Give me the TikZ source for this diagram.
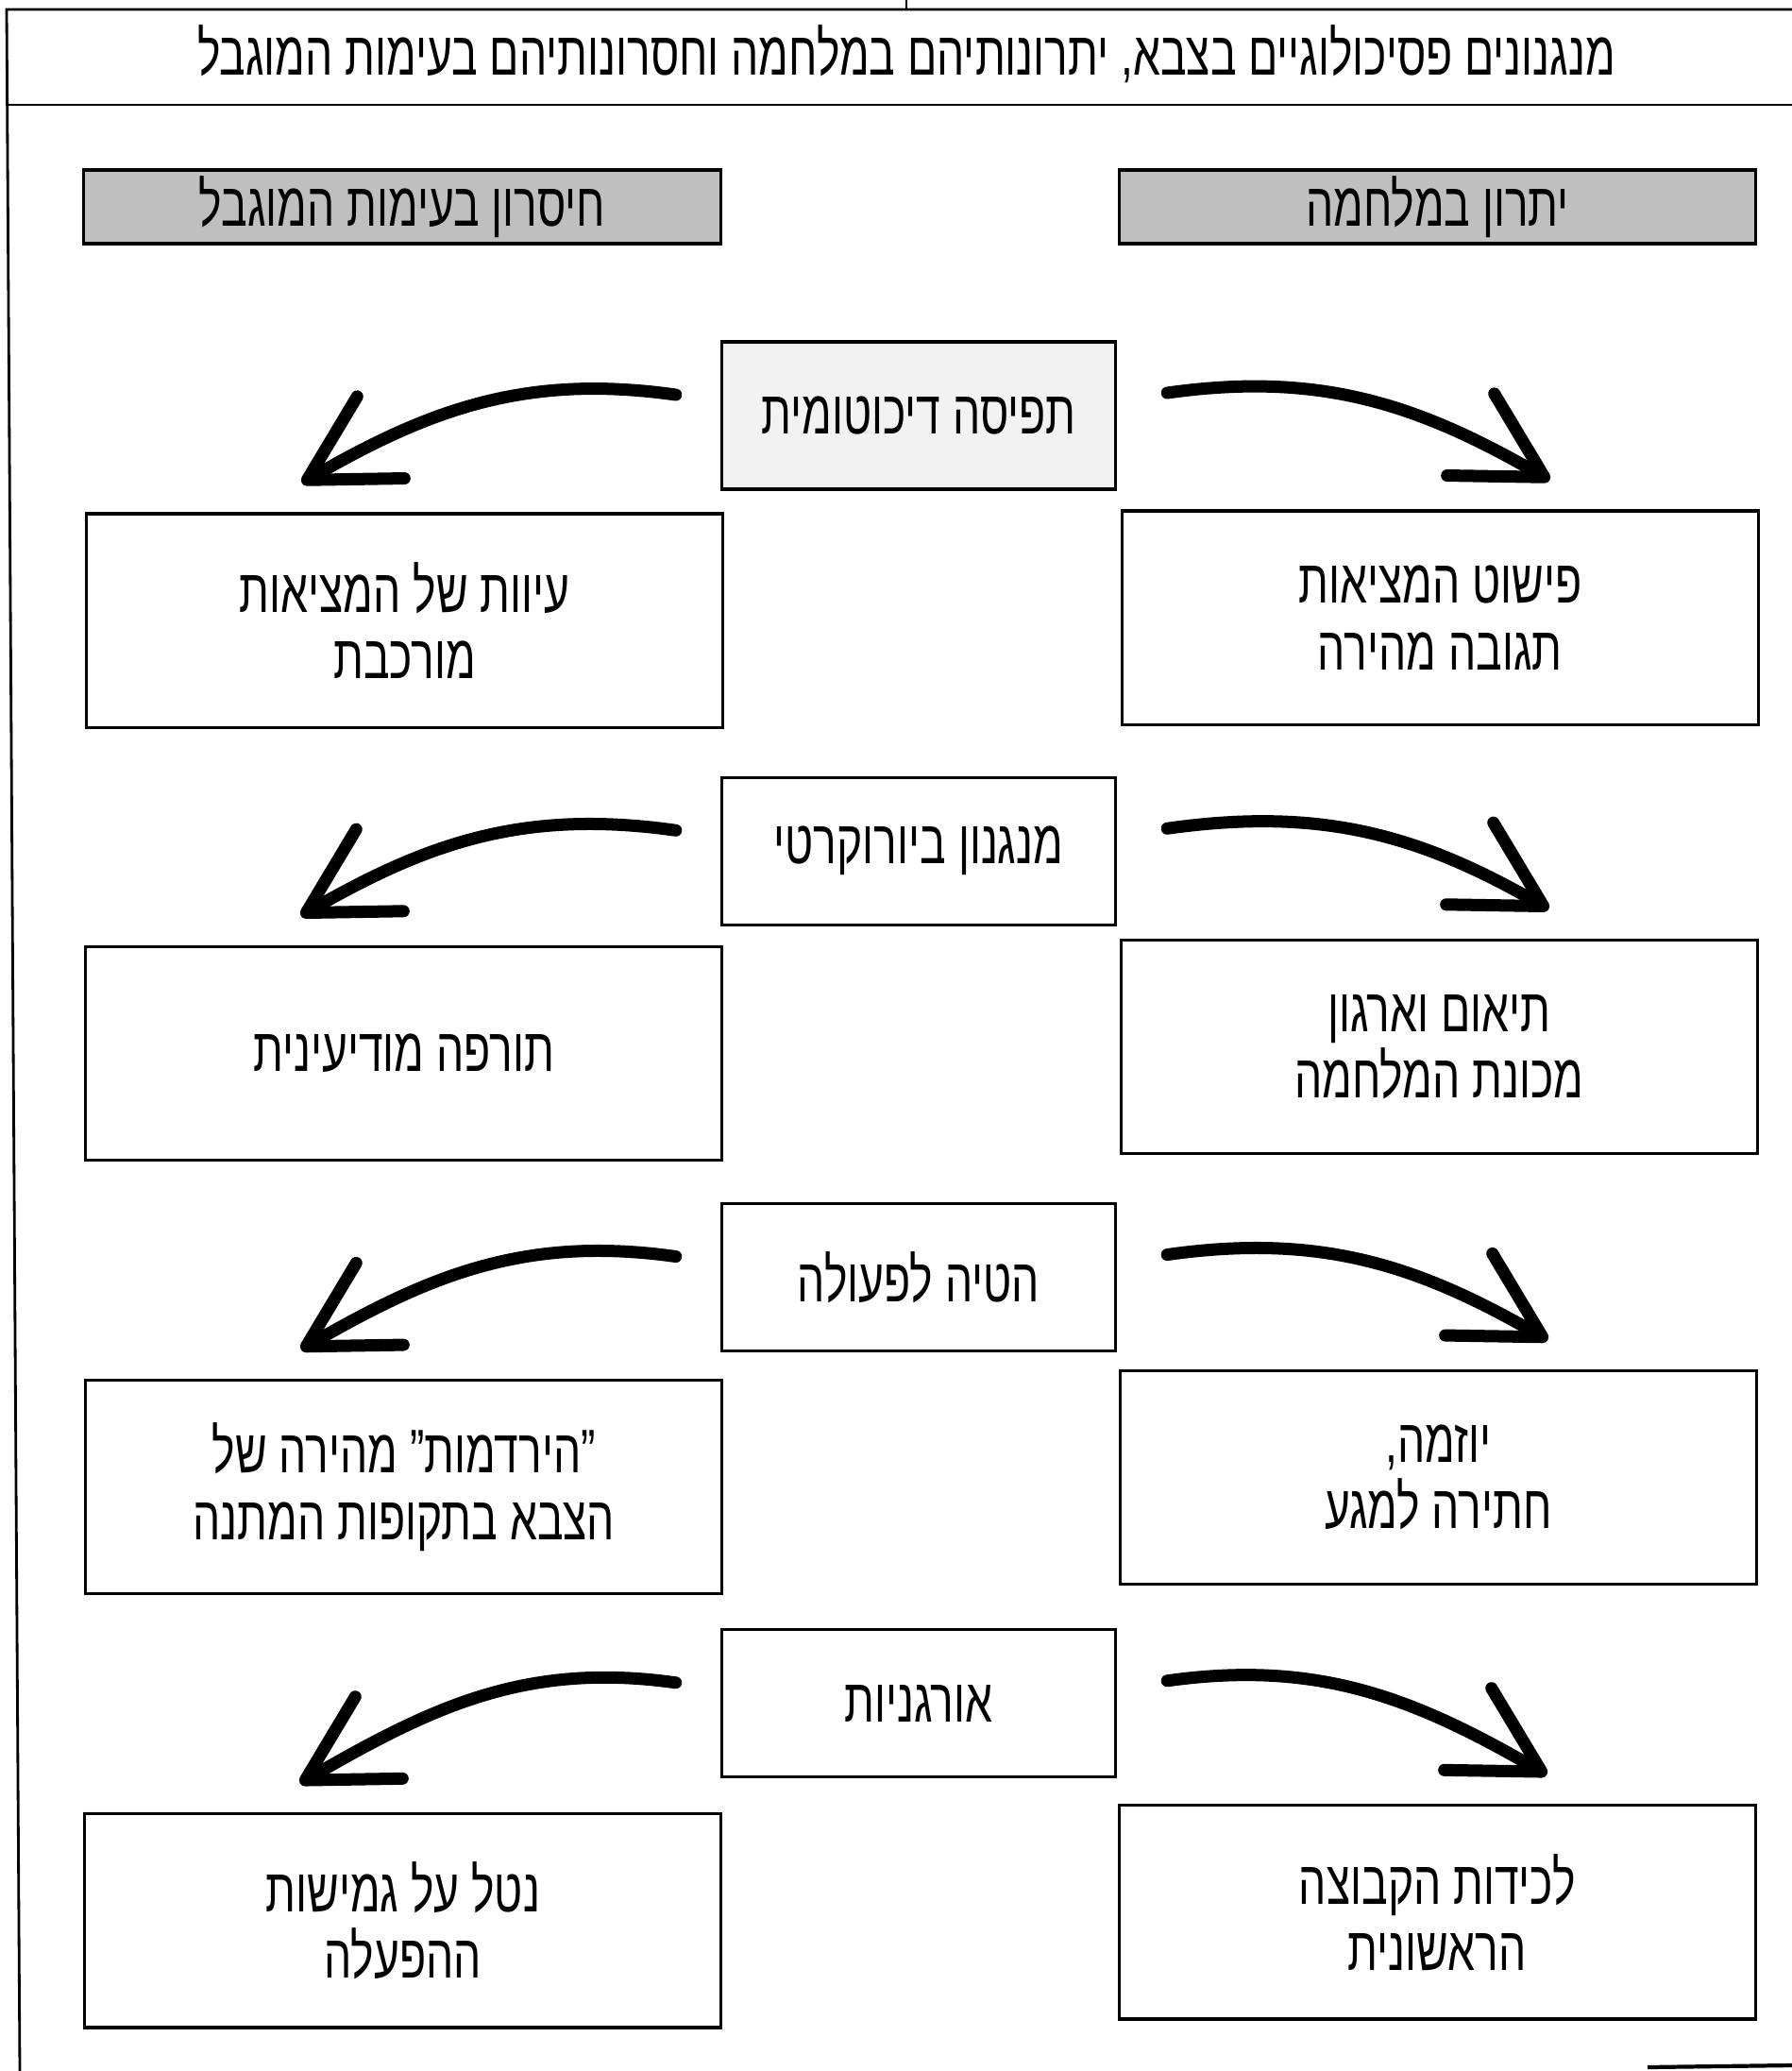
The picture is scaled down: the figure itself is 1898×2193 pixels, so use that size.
\documentclass[tikz,border=0pt]{standalone}
\usepackage{fontspec}
\newfontfamily\hebfont[Script=Hebrew,FakeStretch=0.71]{Liberation Sans}
\TeXXeTstate=1
\newcommand{\heb}[1]{\beginR #1\endR}
\usetikzlibrary{positioning,arrows.meta}

\tikzset{
  hebtext/.style={font=\hebfont\fontsize{18.5}{20}\selectfont,align=center,inner sep=0pt},
  box/.style={hebtext,draw,line width=0.9pt,minimum width=6.74cm,minimum height=2.26cm},
  mech/.style={hebtext,draw,line width=0.9pt,minimum width=4.17cm,minimum height=1.56cm},
  side/.style={hebtext,draw,line width=0.9pt,fill=gray!50,minimum width=6.74cm,minimum height=0.78cm},
  bigarrow/.style={line width=0.13cm,line cap=round,-{Straight Barb[length=9mm,width=10mm,round]}}
}

\begin{document}
\begin{tikzpicture}[x=0.01cm,y=-0.01cm,on grid]
\useasboundingbox (0,0) rectangle (1898,2193);
% frame of the page
\draw[line width=0.8pt] (960,0) -- (960,10);
\draw[line width=0.8pt] (1898,10) -- (7,10) -- (21,2193);
\draw[line width=0.8pt] (8,111) -- (1898,111);
\draw[line width=1.2pt] (1745,2189) -- (1898,2187);
\node[hebtext] (title) at (960,57) {\heb{מנגנונים פסיכולוגיים בצבא, יתרונותיהם במלחמה וחסרונותיהם בעימות המוגבל}};
% column heads
\node[side] (hl) at (426,219) {\heb{חיסרון בעימות המוגבל}};
\node[side] (hr) [right=10.96cm of hl] {\heb{יתרון במלחמה}};
% mechanisms and their effects
\node[mech,fill=gray!10] (c1) at (973,440) {\heb{תפיסה דיכוטומית}};
\node[box] (l1) [below left=2.17cm and 5.44cm of c1] {\heb{עיוות של המציאות}\\\heb{מורכבת}};
\node[box] (r1) [below right=2.14cm and 5.52cm of c1] {\heb{פישוט המציאות}\\\heb{תגובה מהירה}};
\node[mech] (c2) [below=4.61cm of c1] {\heb{מנגנון ביורוקרטי}};
\node[box] (l2) [below left=2.14cm and 5.45cm of c2] {\heb{תורפה מודיעינית}};
\node[box] (r2) [below right=2.07cm and 5.51cm of c2] {\heb{תיאום וארגון}\\\heb{מכונת המלחמה}};
\node[mech] (c3) [below=4.51cm of c2] {\heb{הטיה לפעולה}};
\node[box] (l3) [below left=2.22cm and 5.45cm of c3] {\heb{”הירדמות” מהירה של}\\\heb{הצבא בתקופות המתנה}};
\node[box] (r3) [below right=2.12cm and 5.50cm of c3] {\heb{יוזמה,}\\\heb{חתירה למגע}};
\node[mech] (c4) [below=4.51cm of c3] {\heb{אורגניות}};
\node[box] (l4) [below left=2.30cm and 5.46cm of c4] {\heb{נטל על גמישות}\\\heb{ההפעלה}};
\node[box] (r4) [below right=2.21cm and 5.49cm of c4] {\heb{לכידות הקבוצה}\\\heb{הראשונית}};
\path[bigarrow]
([shift={(-47,-22)}]c1.west) edge [out=172,in=30] ([shift={(-109,-31)}]l1.north)
([shift={(53,-24)}]c1.east) edge [out=8,in=150] ([shift={(116,-31)}]r1.north)
([shift={(-47,-22)}]c2.west) edge [out=172,in=30] ([shift={(-109,-31)}]l2.north)
([shift={(53,-24)}]c2.east) edge [out=8,in=150] ([shift={(116,-31)}]r2.north)
([shift={(-47,-22)}]c3.west) edge [out=172,in=30] ([shift={(-109,-31)}]l3.north)
([shift={(53,-24)}]c3.east) edge [out=8,in=150] ([shift={(116,-31)}]r3.north)
([shift={(-47,-22)}]c4.west) edge [out=172,in=30] ([shift={(-109,-31)}]l4.north)
([shift={(53,-24)}]c4.east) edge [out=8,in=150] ([shift={(116,-31)}]r4.north)
;
\end{tikzpicture}
\end{document}
